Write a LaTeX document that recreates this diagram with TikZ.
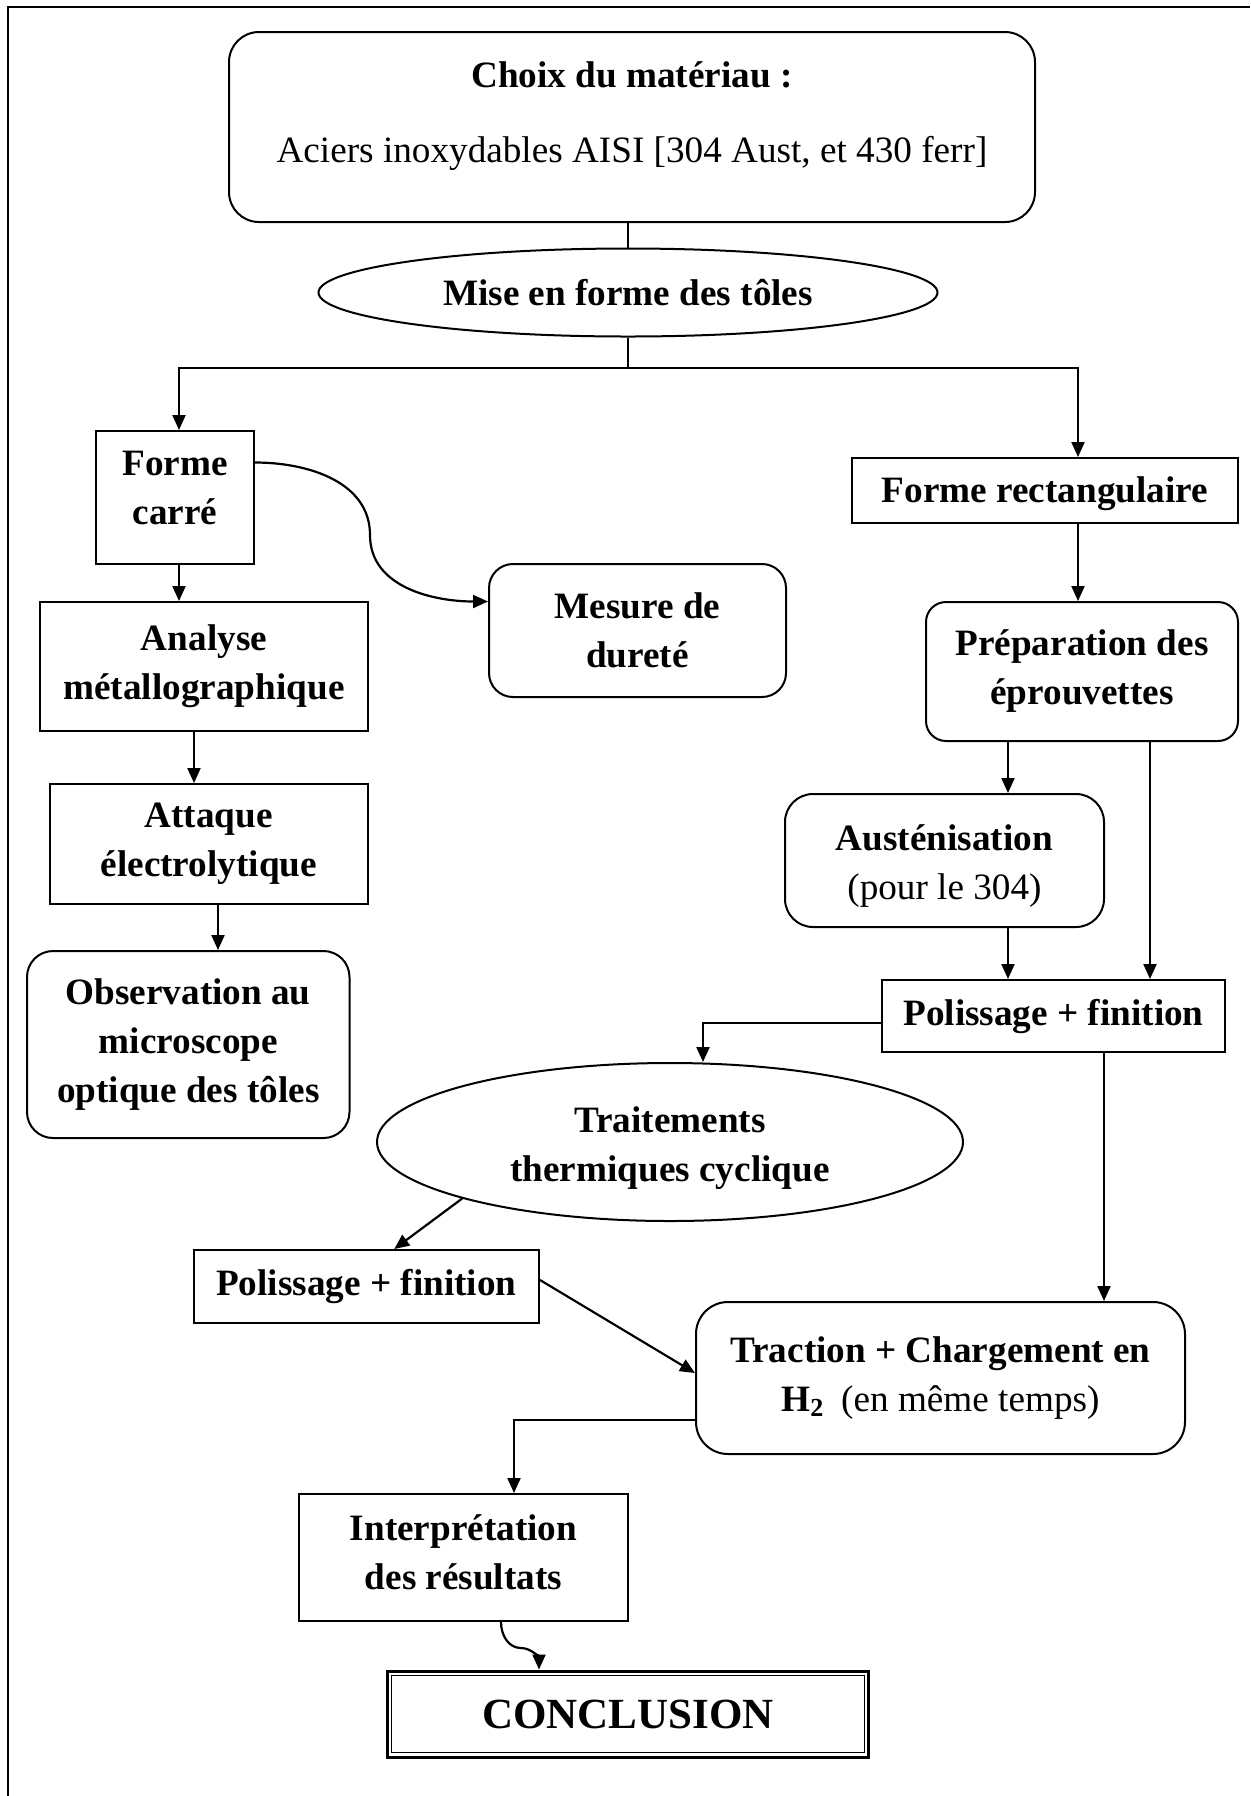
\documentclass[tikz,border=0pt]{standalone}
\usepackage{fontspec}
\setmainfont{Liberation Serif}
\usetikzlibrary{arrows.meta,shapes.geometric}
\begin{document}
\begin{tikzpicture}[x=0.5pt,y=-0.5pt,
  txt/.style={font=\fontsize{18.6}{24.5}\selectfont\bfseries, align=center, inner sep=0pt},
  sqbox/.style={txt, draw, line width=1pt, rectangle},
  rbox/.style={sqbox, rounded corners=12pt},
  ell/.style={txt, draw, line width=1pt, ellipse},
  arr/.style={line width=1.1pt, -{Triangle[length=7.5pt,width=6.5pt]}},
  thinln/.style={line width=0.7pt},
  ]
\useasboundingbox (0,0) rectangle (1250,1796);
\draw[line width=1.1pt] (1250,6.7) -| (7.7,1796);

% nodes
\node[rbox, rounded corners=15pt, minimum width=403pt, minimum height=95pt] (choix) at (632,127) {};
\node[txt, anchor=base] (choixa) at (632,87) {Choix du matériau :};
\node[txt, anchor=base, font=\fontsize{18.6}{24.5}\selectfont\mdseries] (choixb) at (632,162) {Aciers inoxydables AISI [304 Aust, et 430 ferr]};
\node[ell, minimum width=309.5pt, minimum height=44pt] (mise) at (628,292.5) {Mise en forme des tôles};

\node[sqbox, minimum width=79pt, minimum height=66.5pt] (fc) at (175,497.5) {Forme\\carré\rule[-10pt]{0pt}{10pt}};
\node[rbox, minimum width=148.5pt, minimum height=66.5pt] (mes) at (637.5,630.5) {Mesure de\\dureté};
\node[sqbox, minimum width=164pt, minimum height=64.5pt] (ana) at (204,666.5) {Analyse\\métallographique};
\node[sqbox, minimum width=159.25pt, minimum height=60pt] (att) at (208.75,844) {Attaque\\électrolytique};
\node[rbox, rounded corners=13pt, minimum width=161.25pt, minimum height=93.5pt] (obs) at (188.25,1044.5) {Observation au\\microscope\\optique des tôles};

\node[sqbox, minimum width=193pt, minimum height=32.5pt] (fr) at (1045,490.5) {\rule{0pt}{16pt}Forme rectangulaire};
\node[rbox, rounded corners=10pt, minimum width=156pt, minimum height=69.5pt] (prep) at (1082,671.5) {Préparation des\\éprouvettes};
\node[rbox, rounded corners=14pt, minimum width=159.5pt, minimum height=66.5pt] (aust) at (944.5,860.5) {\rule{0pt}{18.4pt}Austénisation\\\mdseries(pour le 304)};
\node[sqbox, minimum width=171.5pt, minimum height=36pt] (pol1) at (1053.5,1016) {Polissage + finition};
\node[ell, minimum width=293pt, minimum height=79pt] (trait) at (670,1142) {\rule{0pt}{18.6pt}Traitements\\thermiques cyclique};
\node[sqbox, minimum width=172.75pt, minimum height=36.5pt] (pol2) at (366.25,1286.5) {Polissage + finition};
\node[rbox, rounded corners=16pt, minimum width=244.5pt, minimum height=76pt] (trac) at (940.5,1378) {Traction + Chargement en\\H\textsubscript{2}\hspace{0.45em}\mdseries(en même temps)};
\node[sqbox, minimum width=164.5pt, minimum height=63.5pt] (interp) at (463.5,1557.5) {Interprétation\\des résultats\rule[-5pt]{0pt}{5pt}};
\node[sqbox, line width=1.5pt, minimum width=240.75pt, minimum height=43pt, font=\fontsize{21.5}{26}\selectfont\bfseries] (concl) at (628,1714) {CONCLUSION};
\draw[line width=0.7pt] ([shift={(3pt,-3pt)}]concl.north west) rectangle ([shift={(-3pt,3pt)}]concl.south east);

% helper coordinates
\coordinate (split) at (628,368);
\coordinate (xl) at (179,0);
\coordinate (xr) at (1078,0);
\coordinate (xa) at (194,0);
\coordinate (xb) at (218,0);
\coordinate (xc) at (1008,0);
\coordinate (xd) at (1150,0);
\coordinate (xe) at (703,0);
\coordinate (xf) at (1104,0);
\coordinate (xg) at (514,0);
\coordinate (cmid) at (370,535);
\coordinate (wmid) at (521,1648);

% connectors
\draw[thinln] (choix.south -| mise.north) -- (mise.north);
\draw[thinln] (mise.south) -- (split);
\draw[arr] (split) -| (fc.north -| xl);
\draw[arr] (split) -| (fr.north -| xr);
\draw[arr] ([yshift=17.5pt]fc.east) to[out=0,in=90] (cmid) to[out=-90,in=180] ([yshift=14.5pt]mes.west);
\draw[arr] (fc.south -| xl) -- (ana.north -| xl);
\draw[arr] (ana.south -| xa) -- (att.north -| xa);
\draw[arr] (att.south -| xb) -- (obs.north -| xb);
\draw[arr] (fr.south -| xr) -- (prep.north -| xr);
\draw[arr] (prep.south -| xc) -- (aust.north -| xc);
\draw[arr] (aust.south -| xc) -- (pol1.north -| xc);
\draw[arr] (prep.south -| xd) -- (pol1.north -| xd);
\draw[arr] ([yshift=-3.5pt]pol1.west) -| (trait.north -| xe);
\draw[arr] (pol1.south -| xf) -- (trac.north -| xf);
\draw[arr] (trait.south west) -- ([xshift=14pt]pol2.north);
\draw[arr] ([yshift=3.25pt]pol2.east) -- ([yshift=2.5pt]trac.west);
\draw[arr] ([yshift=-21pt]trac.west) -| (interp.north -| xg);
\draw[arr] ([xshift=18.75pt]interp.south) to[out=-90,in=180] (wmid) to[out=0,in=90] ([xshift=-44.5pt]concl.north);
\end{tikzpicture}
\end{document}
